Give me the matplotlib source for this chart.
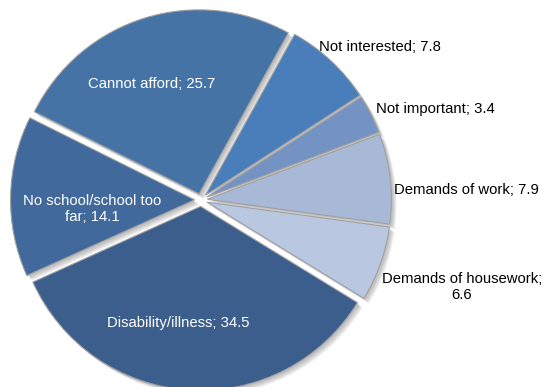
import matplotlib
matplotlib.use('Agg')
import matplotlib.pyplot as plt
import numpy as np

# reasons for not attending school, percent
reasons = ['Not interested', 'Not important', 'Demands of work',
           'Demands of housework', 'Disability/illness',
           'No school/school too far', 'Cannot afford']
shares = [7.8, 3.4, 7.9, 6.6, 34.5, 14.1, 25.7]

colors = ['#4A7EBB', '#7393C4', '#A8B9D8', '#B9C7E1',
          '#3B5E8C', '#41699B', '#4673A6']
label_colors = ['black', 'black', 'black', 'black', 'white', 'white', 'white']
label_text = ['Not interested; 7.8', 'Not important; 3.4', 'Demands of work; 7.9',
              'Demands of housework;\n6.6', 'Disability/illness; 34.5',
              'No school/school too\nfar; 14.1', 'Cannot afford; 25.7']

W, H = 545, 387
CX, CY, R = 201, 200, 184   # pie centre and radius in pixels


def px(x, y):
    # pixel position (from top-left) to data units of the pie
    return (x - CX) / R, (CY - y) / R


# label anchor positions in pixels: (x, y, ha)
label_pos = [(319, 47, 'left'), (376, 109, 'left'), (394, 190, 'left'),
             (462, 287, 'center'), (178, 323, 'center'),
             (92, 209, 'center'), (152, 84, 'center')]

plt.rcParams['font.family'] = ['Liberation Sans', 'DejaVu Sans']

fig = plt.figure(figsize=(W / 100, H / 100), dpi=100)
ax = fig.add_axes([0, 0, 1, 1])

explode = [0.035] * len(shares)

# soft drop shadow: stacked translucent grey copies shifted down-right
for off in np.linspace(0.028, 0.008, 6):
    sh, _ = ax.pie(shares, startangle=61, counterclock=False, explode=explode,
                   colors=['#808080'] * len(shares), radius=1.0,
                   center=(off, -off), frame=True)
    for w in sh:
        w.set_alpha(0.10)
        w.set_edgecolor('none')

wedges, _ = ax.pie(shares, startangle=61, counterclock=False, explode=explode,
                   colors=colors, radius=1.0, frame=True,
                   wedgeprops=dict(edgecolor='#A0A0A0', linewidth=0.8))

ax.set_xlim(-CX / R, (W - CX) / R)
ax.set_ylim(-(H - CY) / R, CY / R)
ax.set_aspect('auto')
ax.axis('off')

for txt, c, (x, y, ha) in zip(label_text, label_colors, label_pos):
    tx, ty = px(x, y)
    ax.text(tx, ty, txt, color=c, fontsize=10.7, ha=ha, va='center',
            multialignment='center', linespacing=1.25)

fig.savefig('out.png', dpi=100)
